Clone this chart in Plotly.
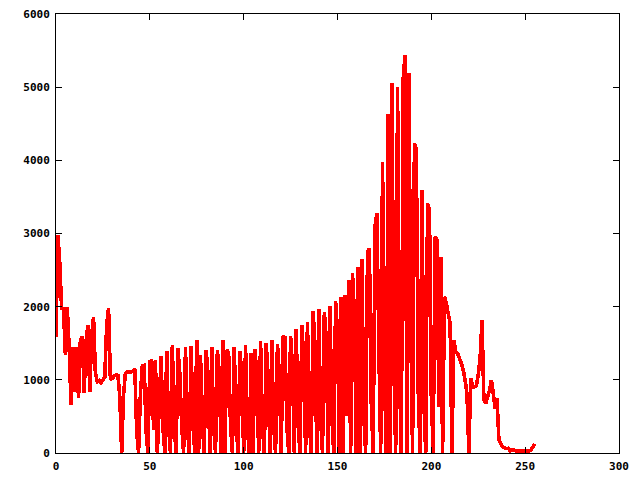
import plotly.graph_objects as go

# histogram counts for levels 0..255
counts_0_49 = [1590, 2980, 2600, 1980, 1970, 1340, 1990, 1450, 660, 1450,
               838, 1450, 747, 1545, 1590, 815, 1520, 1750, 838, 1610,
               1863, 1090, 975, 990, 960, 1000, 1040, 1750, 1977, 1000,
               1020, 1050, 1070, 1060, 770, 0, 800, 1090, 1110, 1100,
               1110, 1120, 1150, 290, 0, 820, 1190, 1200, 290, 0]
counts_50_99 = [1250, 1260, 315, 1270, 0, 630, 1320, 340, 0, 1400,
                350, 0, 1475, 345, 0, 1430, 1070, 350, 0, 1450,
                360, 0, 1455, 365, 0, 1545, 0, 1340, 380, 0,
                1410, 1080, 0, 1450, 370, 0, 1410, 1090, 0, 1545,
                0, 1410, 1360, 380, 0, 1450, 380, 0, 1390, 1090]
counts_100_149 = [0, 1475, 350, 0, 1370, 0, 1420, 1065, 0, 1530,
                  355, 0, 1507, 1070, 0, 1545, 360, 0, 1490, 1080,
                  0, 1600, 1580, 370, 0, 1600, 1180, 0, 1700, 405,
                  0, 1750, 1290, 0, 1790, 420, 0, 1940, 1480, 0,
                  1963, 474, 0, 1930, 1566, 0, 2010, 480, 0, 2076]
counts_150_199 = [1650, 0, 2126, 0, 2160, 500, 2363, 0, 2454, 1908,
                  0, 2545, 0, 2650, 520, 0, 2750, 2796, 680, 0,
                  3100, 3274, 1500, 0, 3980, 1090, 0, 4640, 0, 5050,
                  1250, 0, 5005, 1150, 0, 5118, 5437, 0, 5187, 1860,
                  0, 4230, 4162, 860, 0, 3593, 725, 0, 3410, 3320]
counts_200_255 = [770, 0, 2955, 2910, 630, 2680, 0, 2136, 2045, 1908,
                  1771, 0, 1544, 1384, 1361, 1293, 1225, 1134, 1000, 800,
                  0, 1020, 906, 906, 920, 1065, 1300, 1817, 724, 680,
                  770, 860, 997, 815, 610, 747, 180, 130, 86, 75,
                  60, 64, 30, 45, 40, 30, 30, 28, 30, 25,
                  28, 30, 30, 35, 80, 125]

counts = counts_0_49 + counts_50_99 + counts_100_149 + counts_150_199 + counts_200_255
levels = list(range(len(counts)))

x_ticks = [0, 50, 100, 150, 200, 250, 300]
y_ticks = [0, 1000, 2000, 3000, 4000, 5000, 6000]

fig = go.Figure()
fig.add_trace(go.Scatter(x=levels, y=counts, mode="lines",
                         line=dict(color="#ff0000", width=3.6, simplify=False),
                         showlegend=False, hoverinfo="skip"))

tickfont = dict(family="DejaVu Sans Mono", size=11, color="black", weight="bold")
axis_common = dict(showgrid=False, zeroline=False, showline=True, linecolor="black",
                   linewidth=1, mirror="ticks", ticks="inside", ticklen=6,
                   tickcolor="black", tickwidth=1, tickfont=tickfont,
                   ticklabelstandoff=3, automargin=False)

fig.update_xaxes(range=[0, 300], tickvals=x_ticks, ticktext=[str(v) for v in x_ticks],
                 **axis_common)
fig.update_yaxes(range=[0, 6000], tickvals=y_ticks, ticktext=[str(v) for v in y_ticks],
                 **axis_common)

fig.update_layout(width=640, height=480, paper_bgcolor="white", plot_bgcolor="white",
                  margin=dict(l=56, r=21, t=14, b=27, pad=0, autoexpand=False))

post = ("document.body.style.margin='0';document.body.style.padding='0';"
        "document.querySelectorAll('.scatterlayer path.js-line').forEach(function(p){"
        "p.style.shapeRendering='crispEdges';p.style.strokeLinejoin='miter';"
        "p.style.strokeLinecap='butt';});")
fig.write_html("out.html", config={"displayModeBar": False}, post_script=post)
